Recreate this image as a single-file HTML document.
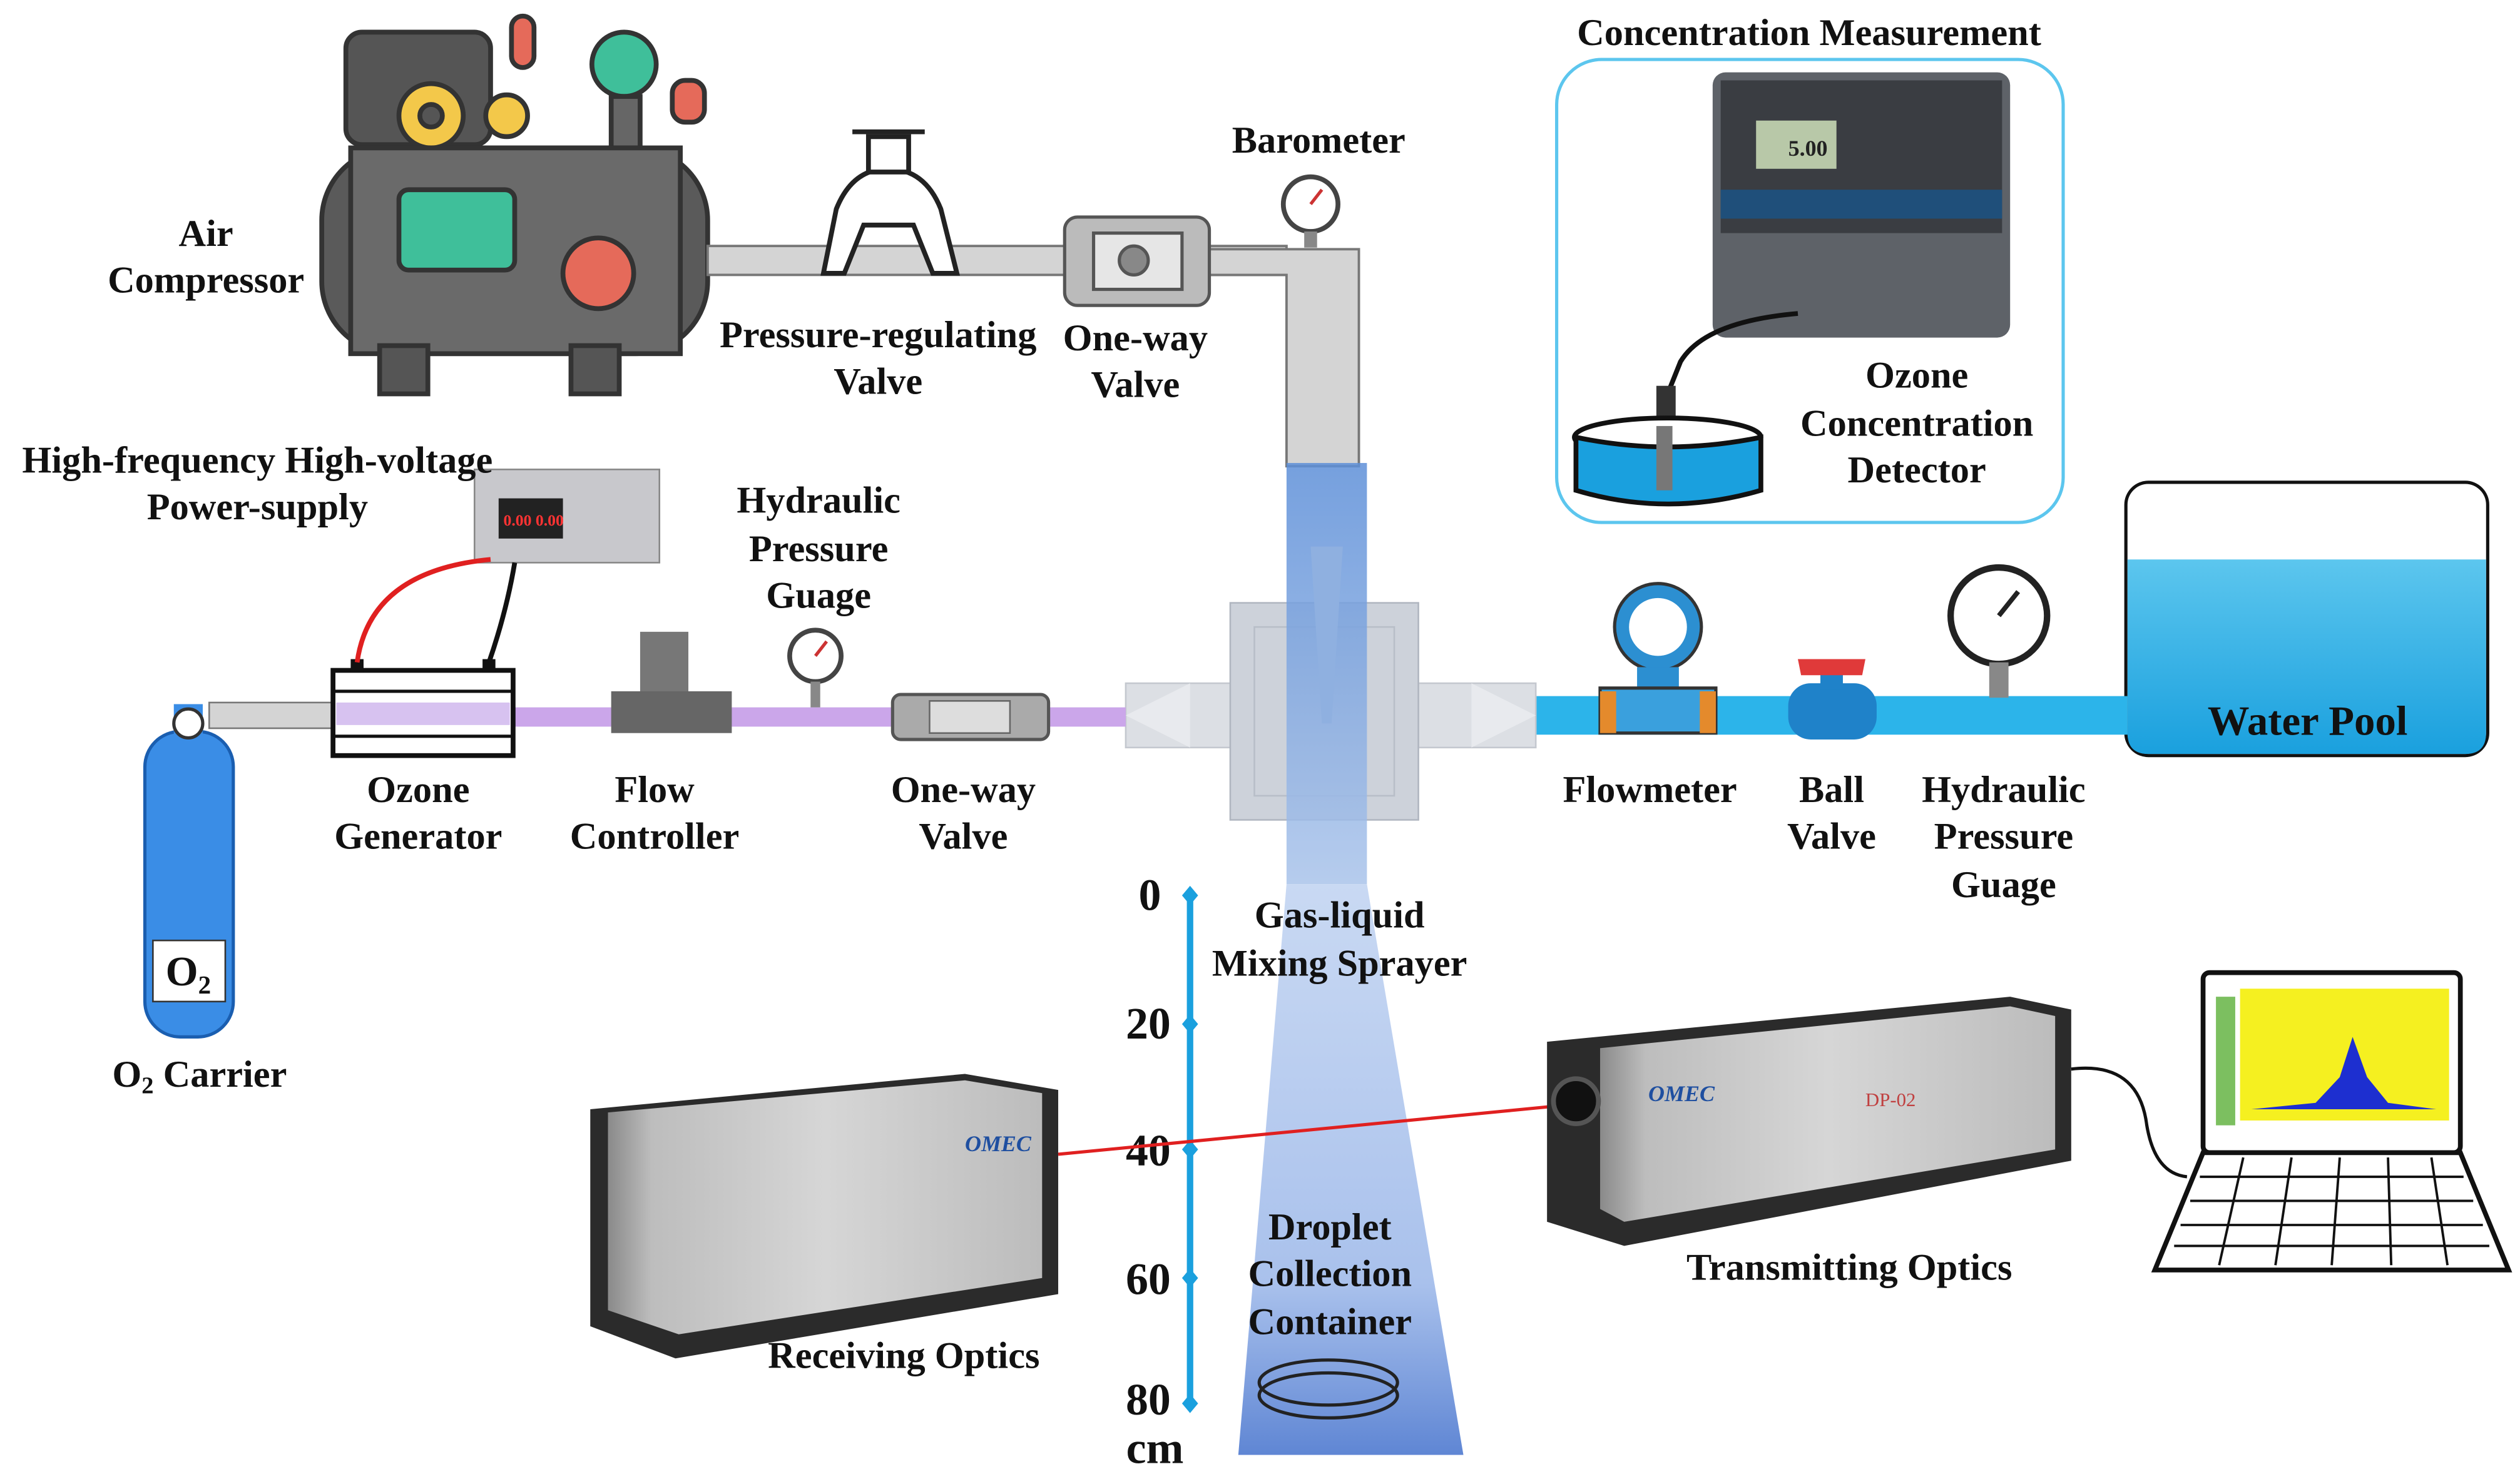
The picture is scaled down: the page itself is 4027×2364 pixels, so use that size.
<!DOCTYPE html>
<html><head><meta charset="utf-8">
<style>
html,body{margin:0;padding:0;background:#fff;}
svg{display:block;}
text{font-family:"Liberation Serif",serif;font-weight:bold;fill:#111;}
</style></head>
<body>
<svg width="4027" height="2364" viewBox="0 0 1567 920" xmlns="http://www.w3.org/2000/svg">
<defs>
<linearGradient id="cone" x1="0" y1="0" x2="0" y2="1">
<stop offset="0" stop-color="#c9d9f3"/><stop offset="0.7" stop-color="#a9c1ec"/><stop offset="1" stop-color="#5f86d4"/></linearGradient>
<linearGradient id="spr" x1="0" y1="0" x2="0" y2="1">
<stop offset="0" stop-color="#5d8fd8"/><stop offset="1" stop-color="#a9c3ea"/></linearGradient>
<linearGradient id="pool" x1="0" y1="0" x2="0" y2="1">
<stop offset="0" stop-color="#5cc6ee"/><stop offset="1" stop-color="#1aa0de"/></linearGradient>
<linearGradient id="dev" x1="0" y1="0" x2="1" y2="0">
<stop offset="0" stop-color="#8a8a8a"/><stop offset="0.1" stop-color="#bdbdbd"/><stop offset="0.5" stop-color="#d6d6d6"/><stop offset="1" stop-color="#bcbcbc"/></linearGradient>
</defs>

<!-- Air compressor -->
<g stroke="#333" stroke-width="3">
<rect x="215" y="20" width="90" height="70" rx="10" fill="#555"/>
<circle cx="268" cy="72" r="20" fill="#f3c84a"/><circle cx="268" cy="72" r="7" fill="#555"/>
<circle cx="315" cy="72" r="13" fill="#f3c84a"/>
<rect x="318" y="10" width="14" height="32" rx="7" fill="#e56a5a"/>
<circle cx="388" cy="40" r="20" fill="#3fbf9a"/>
<rect x="418" y="50" width="20" height="26" rx="8" fill="#e56a5a"/>
<rect x="380" y="60" width="18" height="40" fill="#666"/>
<rect x="200" y="92" width="240" height="128" rx="45" fill="#5a5a5a"/>
<rect x="218" y="92" width="205" height="128" fill="#6a6a6a"/>
<rect x="248" y="118" width="72" height="50" rx="6" fill="#3fbf9a"/>
<circle cx="372" cy="170" r="22" fill="#e56a5a"/>
<rect x="236" y="215" width="30" height="30" fill="#555"/><rect x="355" y="215" width="30" height="30" fill="#555"/>
</g>
<g font-size="23.5" text-anchor="middle">
<text x="128" y="153">Air</text>
<text x="128" y="182">Compressor</text>
</g>

<!-- top pipes -->
<rect x="440" y="153" width="360" height="18" fill="#d4d4d4" stroke="#777" stroke-width="1.5"/>
<path d="M750 155 H845 V290 H800 V171 H750 Z" fill="#d4d4d4" stroke="#777" stroke-width="1.5"/>
<g stroke="#222" stroke-width="3" fill="#fff">
<path d="M512 170 L520 130 Q530 105 552 105 Q575 105 585 130 L595 170 H580 L568 140 H537 L525 170 Z"/>
<rect x="540" y="85" width="25" height="22"/>
<line x1="530" y1="82" x2="575" y2="82"/>
</g>
<g stroke="#555" stroke-width="2">
<rect x="662" y="135" width="90" height="55" rx="8" fill="#bbb"/>
<rect x="680" y="145" width="55" height="35" fill="#e6e6e6"/>
<circle cx="705" cy="162" r="9" fill="#888"/>
</g>
<circle cx="815" cy="127" r="17" fill="#fff" stroke="#444" stroke-width="3"/>
<line x1="815" y1="127" x2="822" y2="118" stroke="#c33" stroke-width="2"/>
<rect x="811" y="144" width="8" height="10" fill="#888"/>
<g font-size="23.5" text-anchor="middle">
<text x="546" y="216">Pressure-regulating</text>
<text x="546" y="245">Valve</text>
<text x="706" y="218">One-way</text>
<text x="706" y="247">Valve</text>
<text x="820" y="95">Barometer</text>
</g>

<!-- Concentration measurement -->
<rect x="968" y="37" width="315" height="288" rx="28" fill="#fff" stroke="#5cc6ee" stroke-width="2"/>
<text x="1125" y="28" font-size="23.5" text-anchor="middle">Concentration Measurement</text>
<rect x="1065" y="45" width="185" height="165" rx="8" fill="#5e6268"/>
<rect x="1070" y="50" width="175" height="95" fill="#3a3d42"/>
<rect x="1092" y="75" width="50" height="30" fill="#b8c8a8"/>
<text x="1112" y="97" font-size="14" style="fill:#222">5.00</text>
<rect x="1070" y="118" width="175" height="18" fill="#1f4f7a"/>
<path d="M1118 195 Q1060 200 1045 225 L1035 250" fill="none" stroke="#111" stroke-width="3"/>
<rect x="1030" y="240" width="12" height="30" fill="#333"/>
<ellipse cx="1037" cy="272" rx="58" ry="12" fill="#fff" stroke="#111" stroke-width="3"/>
<path d="M980 272 V305 Q1037 322 1095 305 V272 Q1037 284 980 272 Z" fill="#1aa0de" stroke="#111" stroke-width="3"/>
<rect x="1030" y="265" width="10" height="40" fill="#777"/>
<g font-size="23.5" text-anchor="middle">
<text x="1192" y="241">Ozone</text>
<text x="1192" y="271">Concentration</text>
<text x="1192" y="300">Detector</text>
</g>

<!-- Water pool -->
<rect x="1322" y="300" width="225" height="170" rx="14" fill="#fff" stroke="#111" stroke-width="2"/>
<path d="M1323 348 H1546 V456 Q1546 469 1533 469 H1336 Q1323 469 1323 456 Z" fill="url(#pool)"/>
<text x="1435" y="457" font-size="26" text-anchor="middle">Water Pool</text>

<rect x="955" y="433" width="368" height="24" fill="#2cb4ea"/>
<circle cx="1031" cy="390" r="27" fill="#2c8fd1" stroke="#333" stroke-width="2"/>
<circle cx="1031" cy="390" r="18" fill="#fff"/>
<rect x="1018" y="415" width="26" height="15" fill="#2c8fd1"/>
<rect x="995" y="428" width="72" height="28" fill="#3aa0dd" stroke="#333" stroke-width="2"/>
<rect x="995" y="430" width="10" height="26" fill="#e48a2c"/><rect x="1057" y="430" width="10" height="26" fill="#e48a2c"/>
<rect x="1112" y="425" width="55" height="35" rx="14" fill="#1f82c9"/>
<rect x="1132" y="415" width="14" height="14" fill="#1f82c9"/>
<path d="M1118 410 H1160 L1158 420 H1120 Z" fill="#e03a3a"/>
<circle cx="1243" cy="383" r="30" fill="#fff" stroke="#222" stroke-width="4"/>
<line x1="1243" y1="383" x2="1255" y2="368" stroke="#222" stroke-width="3"/>
<rect x="1237" y="412" width="12" height="22" fill="#888"/>
<g font-size="23.5" text-anchor="middle">
<text x="1026" y="499">Flowmeter</text>
<text x="1139" y="499">Ball</text>
<text x="1139" y="528">Valve</text>
<text x="1246" y="499">Hydraulic</text>
<text x="1246" y="528">Pressure</text>
<text x="1246" y="558">Guage</text>
</g>

<!-- sprayer -->
<rect x="700" y="425" width="255" height="40" fill="#dcdfe4" stroke="#c4c8cf"/>
<path d="M700 445 L740 425 V465 Z" fill="#e8eaee"/>
<path d="M955 445 L915 425 V465 Z" fill="#e8eaee"/>
<rect x="765" y="375" width="117" height="135" fill="#cdd2da" stroke="#b0b6c0"/>
<rect x="780" y="390" width="87" height="105" fill="none" stroke="#b8bec8"/>
<rect x="800" y="288" width="50" height="262" fill="url(#spr)" opacity="0.85"/>
<path d="M815 340 L835 340 L828 450 L822 450 Z" fill="#8fb0e0"/>
<!-- cone -->
<path d="M800 550 L850 550 L910 905 L770 905 Z" fill="url(#cone)"/>
<g font-size="23.5" text-anchor="middle">
<text x="833" y="577">Gas-liquid</text>
<text x="833" y="607">Mixing Sprayer</text>
<text x="827" y="771">Droplet</text>
<text x="827" y="800">Collection</text>
<text x="827" y="830">Container</text>
</g>
<ellipse cx="826" cy="860" rx="43" ry="14" fill="none" stroke="#222" stroke-width="2"/>
<ellipse cx="826" cy="868" rx="43" ry="14" fill="none" stroke="#222" stroke-width="2"/>

<!-- scale -->
<line x1="740" y1="557" x2="740" y2="873" stroke="#1aa0de" stroke-width="4"/>
<g fill="#1aa0de"><path d="M740 551 l5 6 -5 6 -5 -6z"/><path d="M740 631 l5 6 -5 6 -5 -6z"/><path d="M740 709 l5 6 -5 6 -5 -6z"/><path d="M740 789 l5 6 -5 6 -5 -6z"/><path d="M740 867 l5 6 -5 6 -5 -6z"/></g>
<g font-size="28" text-anchor="end"><text x="722" y="566">0</text><text x="728" y="646">20</text><text x="728" y="725">40</text><text x="728" y="805">60</text><text x="728" y="880">80</text><text x="736" y="910">cm</text></g>

<!-- left line -->
<rect x="320" y="440" width="380" height="12" fill="#cba6ea"/>
<rect x="130" y="437" width="80" height="16" fill="#d4d4d4" stroke="#777"/>
<rect x="90" y="455" width="55" height="190" rx="22" fill="#3a8de6" stroke="#1a5eb0" stroke-width="2"/>
<rect x="108" y="438" width="18" height="20" fill="#3a8de6"/>
<circle cx="117" cy="450" r="9" fill="#fff" stroke="#333" stroke-width="2"/>
<rect x="95" y="585" width="45" height="38" fill="#fff" stroke="#333"/>
<text x="117" y="613" font-size="26" text-anchor="middle">O<tspan font-size="16" dy="5">2</tspan></text>
<text x="124" y="676" font-size="23.5" text-anchor="middle">O<tspan font-size="15" dy="4">2</tspan><tspan dy="-4"> Carrier</tspan></text>
<rect x="207" y="417" width="112" height="53" fill="#fff" stroke="#111" stroke-width="3"/>
<rect x="209" y="437" width="108" height="14" fill="#d7c2f0"/>
<line x1="207" y1="430" x2="319" y2="430" stroke="#111" stroke-width="2"/><line x1="207" y1="458" x2="319" y2="458" stroke="#111" stroke-width="2"/>
<rect x="218" y="410" width="8" height="8" fill="#111"/><rect x="300" y="410" width="8" height="8" fill="#111"/>
<rect x="295" y="292" width="115" height="58" fill="#c8c8cc" stroke="#888"/>
<rect x="310" y="310" width="40" height="25" fill="#222"/>
<text x="313" y="327" font-size="10" style="fill:#f33">0.00 0.00</text>
<path d="M222 412 Q230 355 305 348" fill="none" stroke="#e02020" stroke-width="3"/>
<path d="M304 412 Q315 380 320 350" fill="none" stroke="#111" stroke-width="3"/>
<rect x="398" y="393" width="30" height="40" fill="#777"/>
<rect x="380" y="430" width="75" height="26" fill="#666"/>
<circle cx="507" cy="408" r="16" fill="#fff" stroke="#444" stroke-width="3"/>
<line x1="507" y1="408" x2="514" y2="399" stroke="#c33" stroke-width="2"/>
<rect x="504" y="424" width="6" height="16" fill="#888"/>
<rect x="555" y="432" width="97" height="28" rx="5" fill="#aaa" stroke="#555" stroke-width="2"/>
<rect x="578" y="436" width="50" height="20" fill="#ddd" stroke="#666"/>
<g font-size="23.5" text-anchor="middle">
<text x="260" y="499">Ozone</text>
<text x="260" y="528">Generator</text>
<text x="160" y="294">High-frequency High-voltage</text>
<text x="160" y="323">Power-supply</text>
<text x="407" y="499">Flow</text>
<text x="407" y="528">Controller</text>
<text x="509" y="319">Hydraulic</text>
<text x="509" y="349">Pressure</text>
<text x="509" y="378">Guage</text>
<text x="599" y="499">One-way</text>
<text x="599" y="528">Valve</text>
</g>

<!-- receiving optics -->
<path d="M367 690 L600 668 L658 678 L658 805 L420 845 L367 825 Z" fill="#2b2b2b"/>
<path d="M378 692 L600 672 L648 680 L648 795 L422 830 L378 815 Z" fill="url(#dev)"/>
<text x="600" y="716" font-size="14" style="fill:#1f4fa0" font-style="italic">OMEC</text>
<text x="562" y="851" font-size="23.5" text-anchor="middle">Receiving Optics</text>
<line x1="658" y1="718" x2="968" y2="688" stroke="#e02020" stroke-width="2"/>
<!-- transmitting optics -->
<path d="M962 648 L1250 620 L1288 628 L1288 722 L1010 775 L962 760 Z" fill="#2b2b2b"/>
<path d="M995 652 L1250 626 L1278 632 L1278 715 L1010 760 L995 752 Z" fill="url(#dev)"/>
<circle cx="980" cy="685" r="14" fill="#111" stroke="#555" stroke-width="3"/>
<text x="1025" y="685" font-size="14" style="fill:#1f4fa0" font-style="italic">OMEC</text>
<text x="1160" y="688" font-size="12" style="fill:#c04040;font-weight:normal">DP-02</text>
<text x="1150" y="796" font-size="23.5" text-anchor="middle">Transmitting Optics</text>
<!-- laptop -->
<path d="M1288 665 Q1330 660 1335 700 Q1340 730 1360 732" fill="none" stroke="#111" stroke-width="2"/>
<rect x="1370" y="605" width="160" height="112" rx="4" fill="#fff" stroke="#111" stroke-width="3"/>
<rect x="1393" y="615" width="130" height="82" fill="#f5f020"/>
<path d="M1400 690 L1440 686 L1455 670 L1463 645 L1472 670 L1485 686 L1515 690 Z" fill="#1d2fd0"/>
<rect x="1378" y="620" width="12" height="80" fill="#7cbf60"/>
<path d="M1370 717 H1530 L1560 790 H1340 Z" fill="#fff" stroke="#111" stroke-width="3"/>
<g stroke="#111" stroke-width="1.5">
<line x1="1368" y1="732" x2="1532" y2="732"/><line x1="1362" y1="747" x2="1538" y2="747"/><line x1="1356" y1="762" x2="1544" y2="762"/><line x1="1352" y1="775" x2="1548" y2="775"/>
<line x1="1395" y1="720" x2="1380" y2="787"/><line x1="1425" y1="720" x2="1415" y2="787"/><line x1="1455" y1="720" x2="1450" y2="787"/><line x1="1485" y1="720" x2="1487" y2="787"/><line x1="1512" y1="720" x2="1522" y2="787"/>
</g>
</svg>
</body></html>
